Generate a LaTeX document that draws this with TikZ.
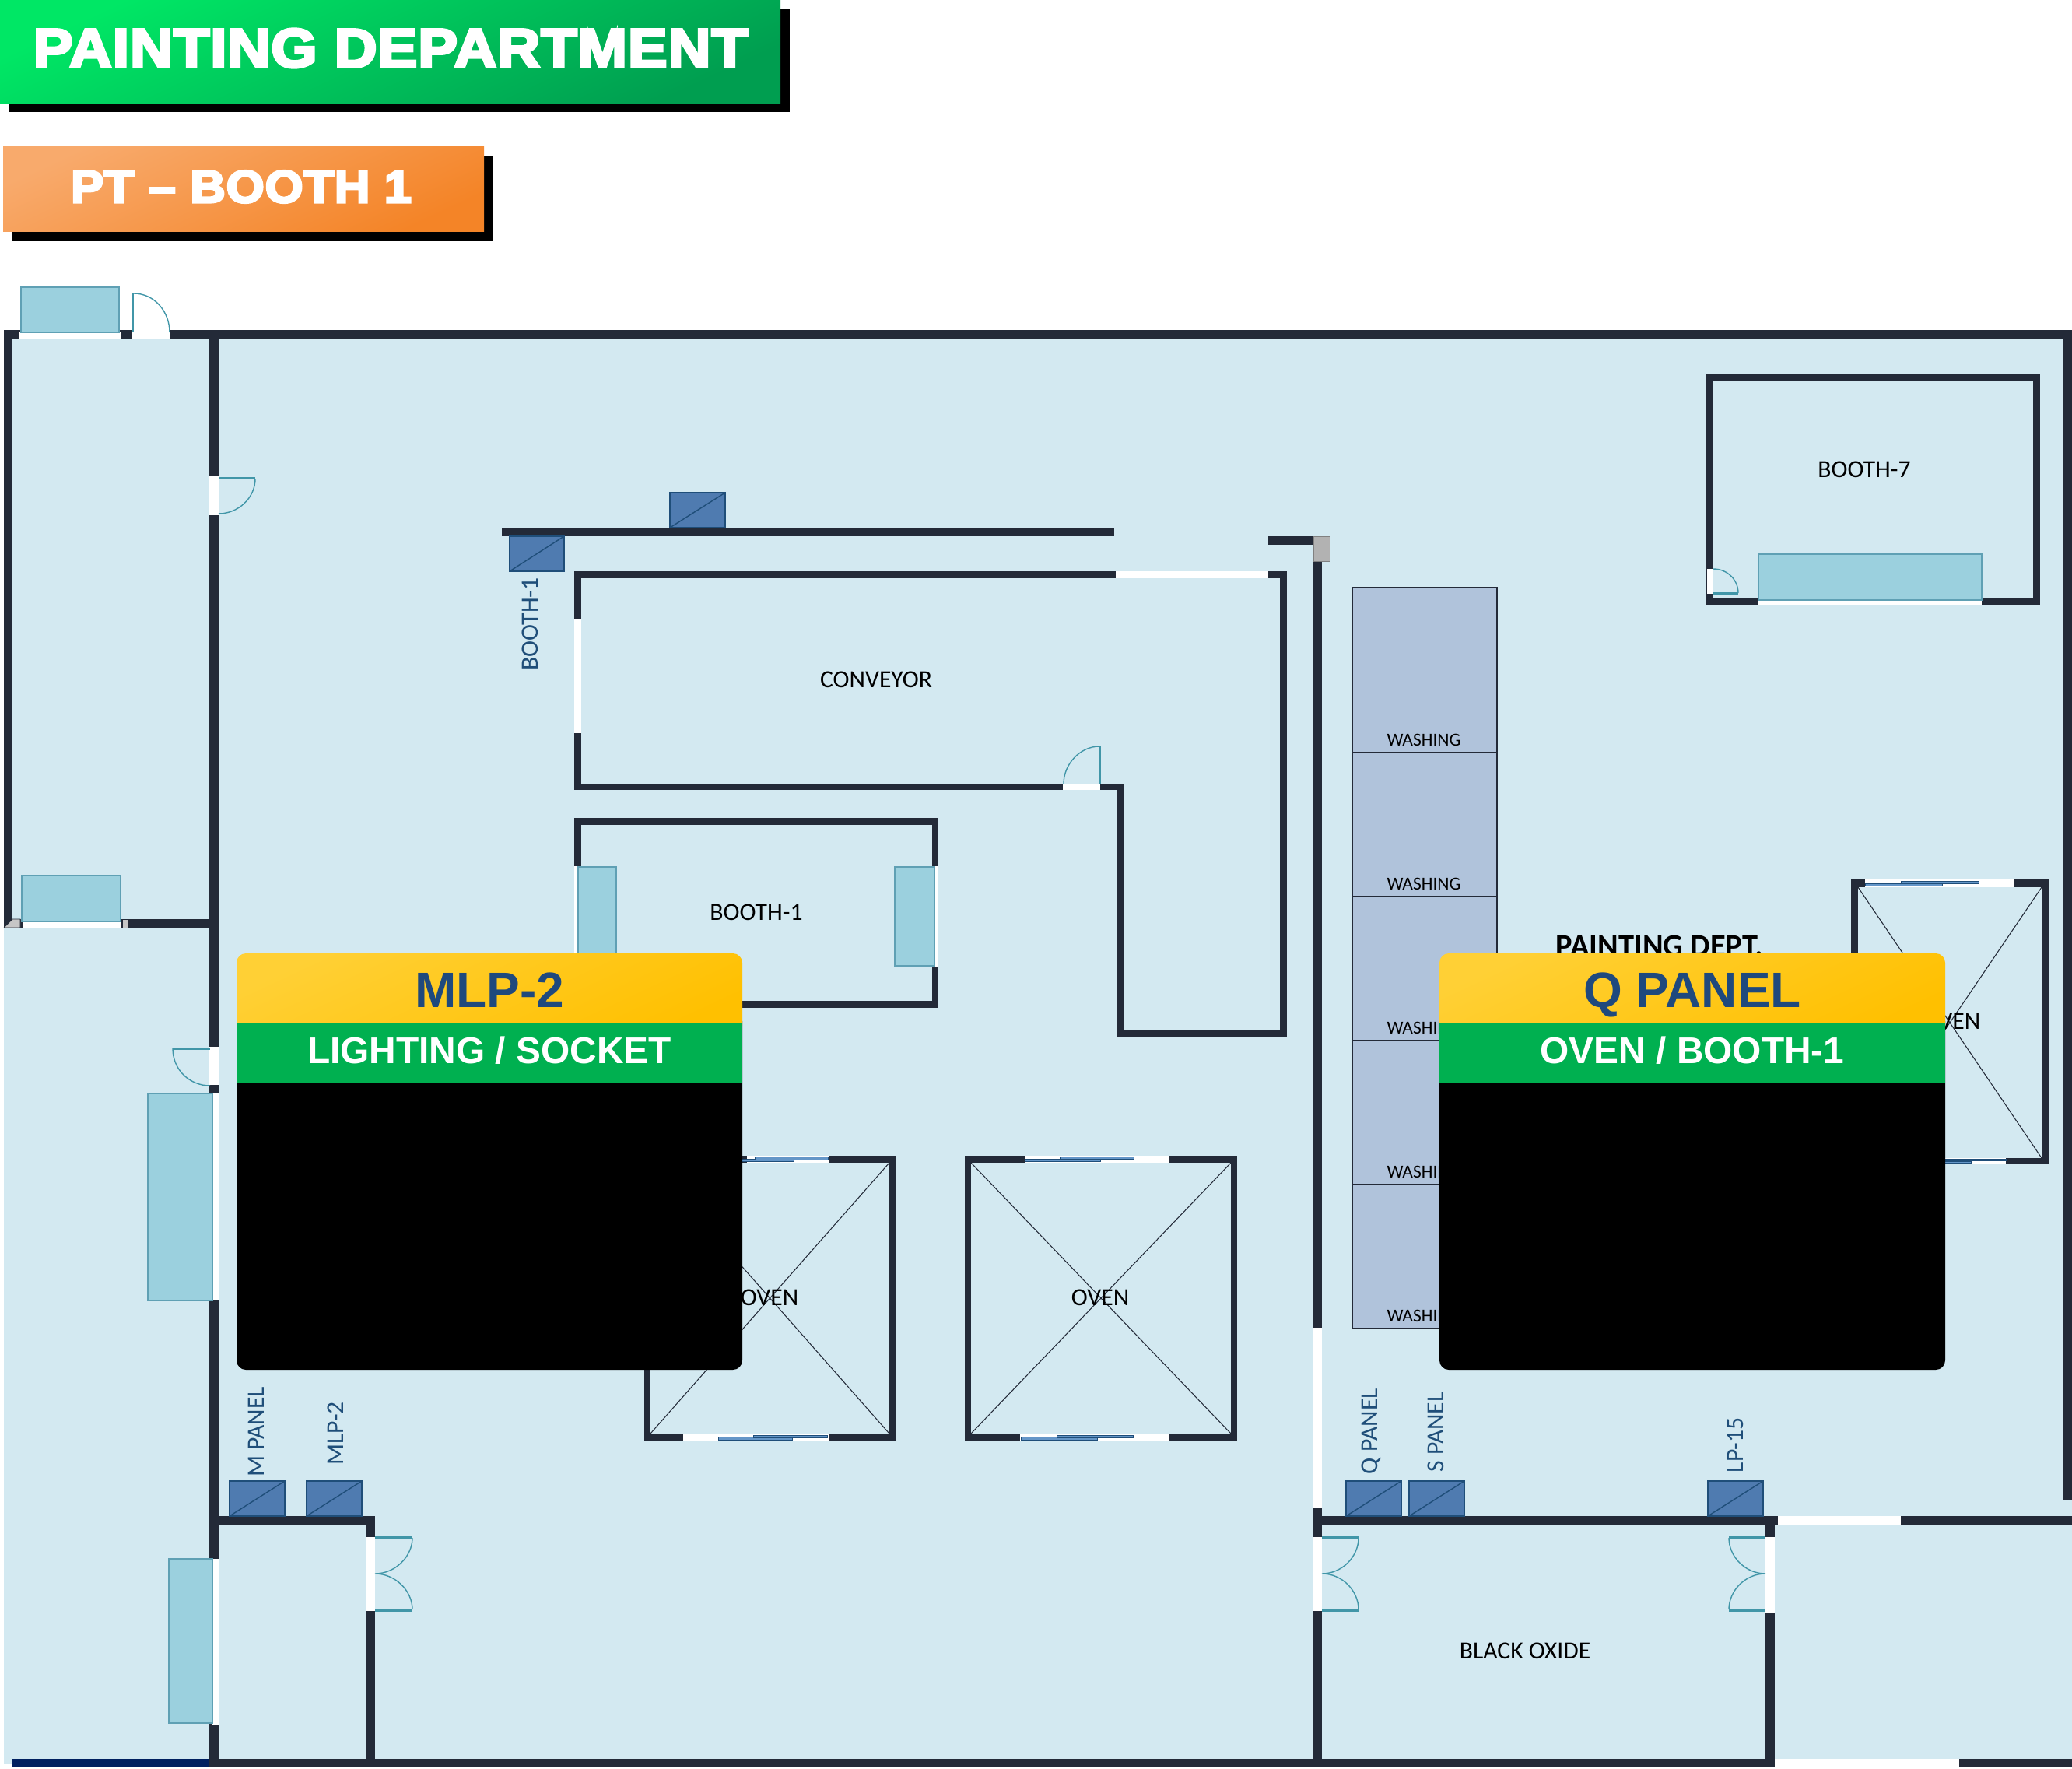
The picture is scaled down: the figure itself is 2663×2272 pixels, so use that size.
\documentclass[tikz,border=0pt]{standalone}
\usepackage{fontspec}
\setmainfont{Carlito}
\newfontfamily\headfont{Liberation Sans}
\newfontfamily\bannerfont[BoldFeatures={FakeBold=5,FakeStretch=1.08,LetterSpace=1.5}]{Liberation Sans}
\usepackage{tikz}
\usetikzlibrary{positioning}
\definecolor{ptfloor}{RGB}{211,233,241}
\definecolor{ptwall}{RGB}{35,42,56}
\definecolor{ptglass}{RGB}{155,208,222}
\definecolor{ptglassline}{RGB}{95,160,180}
\definecolor{ptpanel}{RGB}{79,123,176}
\definecolor{ptpanelline}{RGB}{31,78,121}
\definecolor{ptwash}{RGB}{176,195,219}
\definecolor{ptteal}{RGB}{65,150,168}
\definecolor{ptrail}{RGB}{100,150,200}
\definecolor{pttitle}{RGB}{31,73,125}
\definecolor{ptnavy}{RGB}{0,32,96}
\definecolor{ptgreen}{RGB}{0,176,80}
\definecolor{ptgreenlight}{RGB}{0,231,101}
\definecolor{ptgreendark}{RGB}{0,158,80}
\definecolor{ptorangelight}{RGB}{248,170,108}
\definecolor{ptorange}{RGB}{244,132,39}
\definecolor{ptamberlight}{RGB}{255,208,53}
\definecolor{ptamber}{RGB}{255,192,0}
\tikzstyle{wall} = [fill=ptwall]
\tikzstyle{opening} = [fill=white]
\tikzstyle{glass} = [fill=ptglass, draw=ptglassline, line width=0.4pt]
\tikzstyle{panelbox} = [fill=ptpanel, draw=ptpanelline, line width=0.4pt]
\tikzstyle{leaf} = [fill=ptteal]
\tikzstyle{swing} = [draw=ptteal, line width=0.4pt]
\tikzstyle{rail} = [fill=ptrail, draw=ptpanelline, line width=0.2pt]
\tikzstyle{crossline} = [draw=ptwall, line width=0.3pt]
\tikzstyle{roomlabel} = [inner sep=0pt, font=\fontsize{9}{11}\selectfont, text=black]
\tikzstyle{panellabel} = [inner sep=0pt, rotate=90, font=\fontsize{9}{11}\selectfont, text=ptpanelline]
\tikzstyle{washlabel} = [inner sep=0pt, font=\fontsize{6.7}{8}\selectfont, text=black]
\tikzstyle{cardtitle} = [inner sep=0pt, anchor=base, font=\headfont\bfseries\fontsize{18.2}{20}\selectfont, text=pttitle]
\tikzstyle{cardsub} = [inner sep=0pt, anchor=base, font=\headfont\bfseries\fontsize{13.6}{15}\selectfont, text=white]
\begin{document}
\begin{tikzpicture}[x=0.01cm,y=-0.01cm]
\useasboundingbox (0,0) rectangle (2663,2272);

% Banners
\fill[black] (12,12) rectangle (1015,144);
\shade[top color=ptgreenlight, middle color=ptgreen, bottom color=ptgreendark, shading angle=25] (0,0) rectangle (1003,132);
\node[inner sep=0pt, text=white, font=\bannerfont\bfseries\fontsize{20}{22}\selectfont] (deptbanner) at (502,62) {PAINTING DEPARTMENT};
\fill[black] (16,200) rectangle (634,310);
\shade[top color=ptorangelight, middle color=ptorange, bottom color=ptorange, shading angle=25] (4,188) rectangle (622,297);
\node[inner sep=0pt, text=white, font=\bannerfont\bfseries\fontsize{16.6}{19}\selectfont] (boothbanner) at (310,240) {PT – BOOTH 1};

% Floor
\fill[ptfloor] (5,430) rectangle (2663,2266);

% Washing line
\fill[ptwash, draw=ptwall, line width=0.3pt] (1738,755) rectangle (1924,1707);
\foreach \y in {967,1152,1337,1522} {
    \draw[ptwall, line width=0.4pt] (1738,\y) -- (1924,\y);
}
\foreach \y/\n in {951/a,1136/b,1321/c,1506/d,1691/e} {
    \node[washlabel] (wash\n) at (1830,\y) {WASHING};
}

% Oven crosses
\foreach \xa/\ya/\xb/\yb in {836/1494/1143/1842, 1248/1494/1582/1842, 2388/1140/2624/1488} {
    \draw[crossline] (\xa,\ya) -- (\xb,\yb);
    \draw[crossline] (\xa,\yb) -- (\xb,\ya);
}

% Walls
\foreach \xa/\ya/\xb/\yb in {5/424/2663/436, 5/424/16/1192, 5/1181/281/1192, 269/436/281/2271,
    269/1948/482/1959, 471/1948/482/2271, 269/2260/2663/2271, 1687/689/1699/2271, 1630/689/1688/700,
    1687/1948/2663/1959, 2269/1948/2281/2271, 2651/424/2663/1928, 645/678/1432/689,
    738/734/1654/743, 1645/734/1654/1332, 1436/1324/1654/1332, 1436/1007/1444/1332, 738/1007/1444/1015, 738/734/747/1015,
    738/1051/1206/1060, 738/1051/747/1295, 1198/1051/1206/1295, 738/1286/1206/1295,
    2193/481/2622/490, 2193/481/2202/777, 2613/481/2622/777, 2193/768/2622/777,
    1240/1485/1590/1494, 1240/1842/1590/1851, 1240/1485/1248/1851, 1582/1485/1590/1851,
    828/1485/1151/1494, 828/1842/1151/1851, 828/1485/836/1851, 1143/1485/1151/1851,
    2379/1130/2633/1140, 2379/1488/2633/1496, 2379/1130/2388/1496, 2624/1130/2633/1496} {
    \fill[wall] (\xa,\ya) rectangle (\xb,\yb);
}
\fill[ptnavy] (16,2260) rectangle (269,2271);

% Openings in the walls
\foreach \xa/\ya/\xb/\yb in {25/427/155/436, 170/424/218/436, 269/611/281/662, 269/1345/281/1394,
    273/1405/281/1671, 273/2003/281/2216, 471/1975/482/2070, 1687/1975/1699/2070, 2269/1975/2281/2072,
    1687/1706/1699/1938, 2285/1948/2443/1959, 2281/2260/2518/2271, 29/1184/155/1192,
    1434/734/1630/743, 738/795/747/942, 1366/1007/1414/1015, 738/1113/743/1225, 1201/1113/1206/1242,
    2260/771/2547/777, 2194/731/2202/763, 1317/1485/1502/1494, 1311/1842/1502/1851, 878/1842/1065/1851,
    960/1485/1065/1494, 2397/1130/2588/1140, 2400/1488/2578/1496} {
    \fill[opening] (\xa,\ya) rectangle (\xb,\yb);
}

% Grey posts
\fill[gray!45, draw=ptwall, line width=0.2pt] (5,1192) -- (16,1181) -- (26,1181) -- (26,1192) -- cycle;
\fill[gray!45, draw=ptwall, line width=0.2pt] (157,1181) rectangle (164,1192);
\fill[gray!60, draw=gray, line width=0.2pt] (1688,689) rectangle (1709,721);

% Windows
\foreach \xa/\ya/\xb/\yb in {27/369/153/427, 28/1125/155/1184, 190/1405/273/1671, 217/2003/273/2214,
    743/1114/792/1240, 1150/1114/1201/1241, 2260/712/2547/771} {
    \fill[glass] (\xa,\ya) rectangle (\xb,\yb);
}

% Sliding doors
\foreach \xa/\ya/\xb/\yb in {1317/1489/1414/1492, 1362/1486/1457/1489, 1312/1846/1410/1850, 1358/1844/1456/1847,
    920/1489/1020/1492, 970/1486/1064/1490, 923/1846/1018/1850, 968/1844/1063/1847,
    2397/1135/2496/1138, 2443/1132/2543/1135, 2450/1492/2533/1494, 2480/1489/2578/1491} {
    \fill[rail] (\xa,\ya) rectangle (\xb,\yb);
}

% Door leaves
\foreach \xa/\ya/\xb/\yb in {170/377/172/427, 222/1346/270/1349, 281/613/328/616, 482/1974/530/1978, 482/2067/530/2071,
    1699/1974/1746/1978, 1699/2067/1746/2071, 2222/1974/2269/1978, 2222/2067/2269/2071, 1413/959/1415/1007, 2202/761/2234/764} {
    \fill[leaf] (\xa,\ya) rectangle (\xb,\yb);
}

% Door swings
\draw[swing] (172,377) .. controls (198,377) and (218,400) .. (218,427);
\draw[swing] (222,1347) .. controls (222,1375) and (244,1395) .. (270,1395);
\draw[swing] (328,615) .. controls (328,640) and (306,660) .. (281,660);
\draw[swing] (530,1976) .. controls (530,2000) and (508,2022) .. (482,2022) .. controls (508,2022) and (530,2044) .. (530,2068);
\draw[swing] (1746,1976) .. controls (1746,2000) and (1725,2022) .. (1699,2022) .. controls (1725,2022) and (1746,2044) .. (1746,2068);
\draw[swing] (2222,1976) .. controls (2222,2000) and (2243,2022) .. (2269,2022) .. controls (2243,2022) and (2222,2044) .. (2222,2068);
\draw[swing] (1413,959) .. controls (1388,959) and (1367,982) .. (1367,1007);
\draw[swing] (2234,762) .. controls (2234,745) and (2220,731) .. (2202,731);

% Electrical panels
\foreach \xa/\ya/\xb/\yb in {295/1903/366/1948, 394/1903/465/1948, 1730/1903/1801/1948, 1811/1903/1882/1948,
    2195/1903/2266/1948, 861/633/932/678, 655/689/725/734} {
    \fill[panelbox] (\xa,\ya) rectangle (\xb,\yb);
    \draw[ptpanelline, line width=0.4pt] (\xa,\yb) -- (\xb,\ya);
}
\node[panellabel] (mpanel) at (329,1840) {M PANEL};
\node[panellabel] (mlptwo) at (431,1842) {MLP-2};
\node[panellabel] (qpanel) at (1762,1839) {Q PANEL};
\node[panellabel] (spanel) at (1845,1840) {S PANEL};
\node[panellabel] (lpfifteen) at (2230,1857) {LP-15};
\node[panellabel] (boothpanel) at (681,802) {BOOTH-1};

% Room names
\node[roomlabel] (conveyor) at (1126,873) {CONVEYOR};
\node[roomlabel] (boothone) at (972,1172) {BOOTH-1};
\node[roomlabel] (boothseven) at (2396,603) {BOOTH-7};
\node[roomlabel] (blackoxide) at (1960,2121) {BLACK OXIDE};
\node[roomlabel] (ovena) at (989,1667) {OVEN};
\node[roomlabel] (ovenb) at (1414,1667) {OVEN};
\node[roomlabel] (ovenc) at (2508,1312) {OVEN};
\node[inner sep=0pt, font=\bfseries\fontsize{11.5}{13}\selectfont] (paintdept) at (2133,1215) {PAINTING DEPT.};

% Cards
\foreach \cx/\cname/\ctitle/\csub in {304/mlp/{MLP-2}/{LIGHTING / SOCKET}, 1850/qp/{Q PANEL}/{OVEN / BOOTH-1}} {
    \fill[black, rounded corners=0.12cm] (\cx,1300) rectangle (\cx+650,1760);
    \shade[top color=ptamberlight, middle color=ptamber, bottom color=ptamber, shading angle=25, rounded corners=0.12cm]
        (\cx,1330) -- (\cx,1225) -- (\cx+650,1225) -- (\cx+650,1330) -- cycle;
    \fill[ptgreen] (\cx,1315) rectangle (\cx+650,1391);
    \fill[black] (\cx,1391) rectangle (\cx+650,1600);
    \node[cardtitle] (\cname title) at (\cx+325,1294) {\ctitle};
    \node[cardsub] (\cname sub) at (\cx+325,1366) {\csub};
}
\end{tikzpicture}
\end{document}
